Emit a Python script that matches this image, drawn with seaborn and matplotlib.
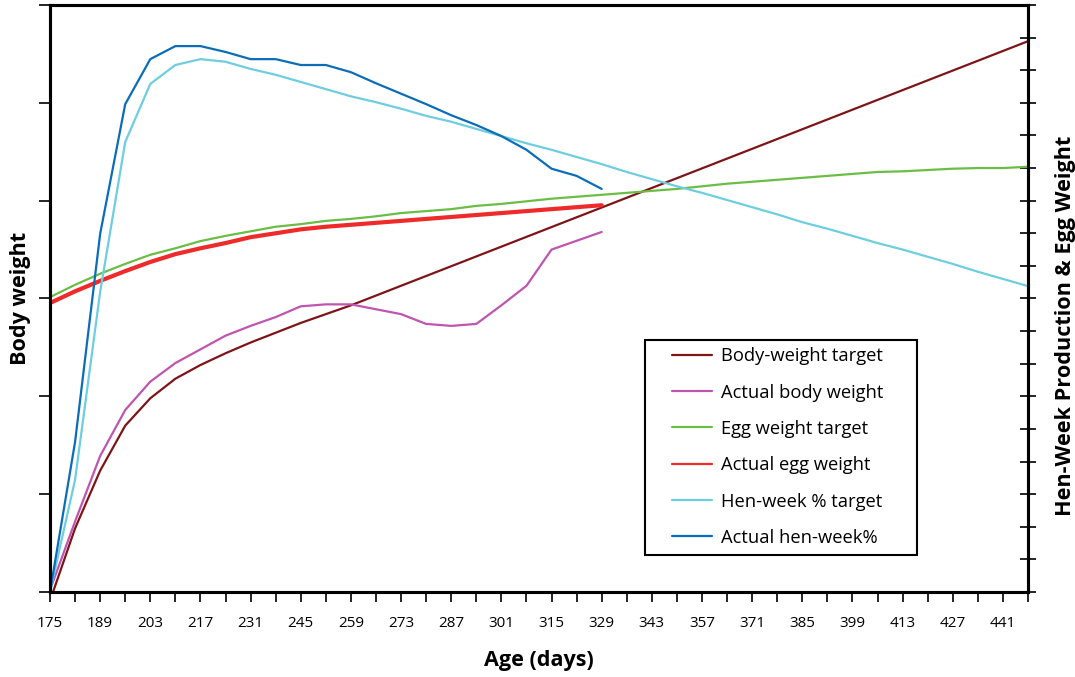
import numpy as np
import pandas as pd
import matplotlib
matplotlib.use("Agg")
import matplotlib.pyplot as plt
from matplotlib.lines import Line2D
from matplotlib.patches import Rectangle
from matplotlib.ticker import FixedLocator, MultipleLocator
import seaborn as sns

sns.set_style("white")
plt.rcParams['font.family'] = ['Open Sans', 'DejaVu Sans']
plt.rcParams['text.color'] = 'black'
plt.rcParams['axes.labelcolor'] = 'black'
plt.rcParams['xtick.color'] = 'black'
plt.rcParams['ytick.color'] = 'black'

# Age in days, weekly from week 25 to week 64
days = list(range(175, 449, 7))
x_labels = list(range(175, 442, 14))

# Left axis (body weight, g)
bw_target = [1391, 1465, 1524, 1570, 1598, 1618, 1632, 1644, 1655, 1665,
             1675, 1684, 1693, 1703, 1713, 1723, 1733, 1743, 1753, 1763,
             1773, 1783, 1793, 1803, 1813, 1823, 1833, 1843, 1853, 1863,
             1873, 1883, 1893, 1903, 1913, 1923, 1933, 1943, 1953, 1963]
bw_actual = [1402, 1472, 1539, 1586, 1615, 1634, 1648, 1662, 1672, 1681,
             1692, 1694, 1694, 1689, 1684, 1674, 1672, 1674, 1693, 1713,
             1750, 1759, 1768]

# Right axis (egg weight g, hen-week %)
egg_target = [45.2, 47.1, 48.8, 50.3, 51.7, 52.7, 53.8, 54.6, 55.3, 56.0,
              56.4, 56.9, 57.2, 57.6, 58.1, 58.4, 58.7, 59.2, 59.5, 59.9,
              60.3, 60.6, 60.9, 61.2, 61.5, 61.8, 62.2, 62.6, 62.9, 63.2,
              63.5, 63.8, 64.1, 64.4, 64.5, 64.7, 64.9, 65.0, 65.0, 65.2]
egg_actual = [44.3, 46.1, 47.7, 49.2, 50.6, 51.8, 52.7, 53.5, 54.4, 55.0,
              55.6, 56.0, 56.3, 56.6, 56.9, 57.2, 57.5, 57.8, 58.1, 58.4,
              58.7, 59.0, 59.3]
hw_target = [0.0, 17.2, 46.0, 69.0, 77.9, 80.8, 81.7, 81.3, 80.2, 79.3,
             78.2, 77.1, 76.0, 75.1, 74.1, 73.0, 72.1, 71.0, 69.9, 68.8,
             67.8, 66.7, 65.6, 64.4, 63.3, 62.2, 61.2, 60.1, 59.0, 57.9,
             56.7, 55.7, 54.6, 53.5, 52.5, 51.4, 50.3, 49.1, 48.0, 46.9]
hw_actual = [0.0, 23.0, 54.9, 74.8, 81.7, 83.7, 83.7, 82.8, 81.7, 81.7,
             80.8, 80.8, 79.7, 78.0, 76.4, 74.8, 73.1, 71.6, 69.9, 67.8,
             64.9, 63.8, 61.8]

labels = ["Body-weight target", "Actual body weight", "Egg weight target",
          "Actual egg weight", "Hen-week % target", "Actual hen-week%"]
colors = ["#7d1518", "#c055b0", "#6cbd45", "#ee2a2a", "#6fcde0", "#0b6db7"]

fig = plt.figure(figsize=(10.75, 6.77), dpi=100)
ax = fig.add_axes([0.0465, 0.1256, 0.9098, 0.867])
ax2 = ax.twinx()

sns.lineplot(x=days, y=bw_target, ax=ax, color=colors[0], lw=1.6)
sns.lineplot(x=days[:len(bw_actual)], y=bw_actual, ax=ax, color=colors[1], lw=1.6)
sns.lineplot(x=days, y=egg_target, ax=ax2, color=colors[2], lw=1.6)
sns.lineplot(x=days[:len(egg_actual)], y=egg_actual, ax=ax2, color=colors[3], lw=3.0)
sns.lineplot(x=days, y=hw_target, ax=ax2, color=colors[4], lw=1.6)
sns.lineplot(x=days[:len(hw_actual)], y=hw_actual, ax=ax2, color=colors[5], lw=1.6)

ax.set_xlim(175, 448)
ax.set_ylim(1400, 2000)
ax2.set_ylim(0, 90)

ax.xaxis.set_major_locator(FixedLocator(x_labels))
ax.set_xticklabels([str(d) for d in x_labels])
ax.xaxis.set_minor_locator(FixedLocator([d + 7 for d in x_labels]))
ax.yaxis.set_major_locator(MultipleLocator(100))
ax.set_yticklabels([])
ax2.yaxis.set_major_locator(MultipleLocator(5))
ax2.set_yticklabels([])

ax.tick_params(axis='x', which='both', direction='out', length=7, width=1.2,
               labelsize=11, pad=10, bottom=True)
ax.tick_params(axis='y', direction='out', length=8, width=1.2, left=True)
ax2.tick_params(axis='y', direction='inout', length=12, width=1.2, right=True)

for a in (ax, ax2):
    for s in a.spines.values():
        s.set_linewidth(2.2)
        s.set_color("black")

ax.set_xlabel("Age (days)", fontsize=15.6, fontweight='bold', labelpad=14)
ax.set_ylabel("Body weight", fontsize=15.6, fontweight='bold', labelpad=2)
ax2.set_ylabel("Hen-Week Production & Egg Weight", fontsize=15.6,
               fontweight='bold')
ax2.yaxis.set_label_coords(1.0275, 0.453)

# legend box drawn as its own rectangle, entries placed inside it
ax2.add_patch(Rectangle((0.6084, 0.063), 0.2781, 0.3663, transform=ax2.transAxes,
                        fill=True, facecolor='white', edgecolor='black',
                        lw=1.5, zorder=5))
handles = [Line2D([], [], color=c, lw=1.6) for c in colors]
leg = ax2.legend(handles, labels, loc='upper left', bbox_to_anchor=(0.636, 0.417),
                 fontsize=13.2, frameon=False, handlelength=2.2,
                 handletextpad=0.45, labelspacing=1.0, borderpad=0,
                 borderaxespad=0)
leg.set_zorder(6)

fig.savefig("out.png", dpi=100)
